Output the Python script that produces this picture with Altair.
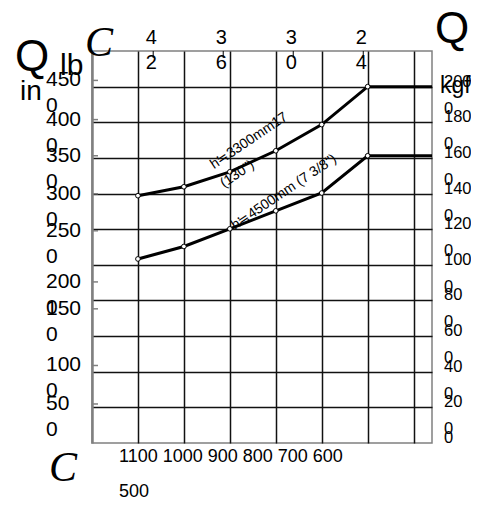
import altair as alt
import pandas as pd

# ---- data ----
x_mm = [1100, 1000, 900, 800, 700, 600]
upper_kgf = [138.8, 143.8, 152.2, 164.0, 178.7, 200.0]
lower_kgf = [103.3, 110.3, 120.2, 130.3, 140.3, 161.2]
x_start, x_edge = 1200, 460
y_max = 220

upper_text = ["h≒3300mm17", "(130\")"]
lower_text = ["h≒4500mm (7 3/8\")"]

left_labels = ["450", "400", "350", "300", "250", "200", "150", "100", "50"]
left_label_pos = [203.5, 181.5, 161.2, 139.9, 119.1, 90.4, 75.3, 43.5, 21.9]
right_values = [200, 180, 160, 140, 120, 100, 80, 60, 40, 20, 0]
top_inches = [42, 36, 30, 24]
bottom_labels = ["1100", "1000", "900", "800", "700", "600", "500"]
grid_x = [1100, 1000, 900, 800, 700, 600, 500]
grid_y = [20, 40, 60, 80, 100, 120, 140, 160, 180, 200]

F = "Liberation Sans"
FI = "Liberation Serif"

xs = alt.Scale(domain=[x_edge, x_start], reverse=True, nice=False, zero=False)
ys = alt.Scale(domain=[0, y_max], nice=False, zero=True)

rows = []
for name, ys_ in (("upper", upper_kgf), ("lower", lower_kgf)):
    for xv, yv in zip(x_mm + [x_edge], ys_ + [ys_[-1]]):
        rows.append({"series": name, "x": xv, "y": yv})
lines_df = pd.DataFrame(rows)
pts_df = pd.DataFrame(
    [{"series": "upper", "x": a, "y": b} for a, b in zip(x_mm, upper_kgf)]
    + [{"series": "lower", "x": a, "y": b} for a, b in zip(x_mm, lower_kgf)]
)

X = alt.X("x:Q", scale=xs, title=None,
          axis=alt.Axis(values=grid_x, labels=False, ticks=False, domain=False,
                        grid=True, gridColor="#111", gridWidth=1.5))
Y = alt.Y("y:Q", scale=ys, title=None,
          axis=alt.Axis(values=grid_y, labels=False, ticks=False, domain=True,
                        domainColor="#808080", domainWidth=2.5,
                        grid=True, gridColor="#111", gridWidth=1.5))

lines = alt.Chart(lines_df).mark_line(color="black", strokeWidth=3).encode(
    x=X, y=Y, detail="series:N")
points = alt.Chart(pts_df).mark_point(
    shape="circle", fill="white", stroke="black", strokeWidth=1,
    size=22, opacity=1, fillOpacity=1).encode(
    x=alt.X("x:Q", scale=xs), y=alt.Y("y:Q", scale=ys), detail="series:N")

# left axis (irregular)
left_df = pd.DataFrame({"pos": left_label_pos, "label": left_labels})
left_ticks = alt.Chart(left_df).mark_rule(color="#808080", strokeWidth=1.5).encode(
    x=alt.value(0), x2=alt.value(6), y=alt.Y("pos:Q", scale=ys))
left_txt = alt.Chart(left_df).mark_text(
    align="left", baseline="middle", fontSize=21, font=F, color="black").encode(
    x=alt.value(-46), y=alt.Y("pos:Q", scale=ys), text="label:N")
left_txt2 = alt.Chart(left_df).mark_text(
    align="left", baseline="middle", fontSize=21, font=F, color="black", dy=26).encode(
    x=alt.value(-46), y=alt.Y("pos:Q", scale=ys), text=alt.value("0"))

# right axis
right_df = pd.DataFrame({"v": right_values, "label": [str(v) for v in right_values]})
right_txt = alt.Chart(right_df).mark_text(
    align="left", baseline="middle", fontSize=16.5, font=F, color="black", dy=-5).encode(
    x=alt.value(352), y=alt.Y("v:Q", scale=ys), text="label:N")
right_txt2 = alt.Chart(right_df[right_df.v > 0]).mark_text(
    align="left", baseline="middle", fontSize=16.5, font=F, color="black", dy=22).encode(
    x=alt.value(352), y=alt.Y("v:Q", scale=ys), text=alt.value("0"))

# top axis (inches)
top_df = pd.DataFrame({"mm": [i * 25.4 for i in top_inches],
                       "a": [str(i)[0] for i in top_inches],
                       "b": [str(i)[1] for i in top_inches]})
top_ticks = alt.Chart(top_df).mark_rule(color="black", strokeWidth=1).encode(
    x=alt.X("mm:Q", scale=xs), y=alt.value(0), y2=alt.value(7))
top_a = alt.Chart(top_df).mark_text(
    align="center", baseline="middle", fontSize=20, font=F, color="black", dx=-2).encode(
    x=alt.X("mm:Q", scale=xs), y=alt.value(-13), text="a:N")
top_b = alt.Chart(top_df).mark_text(
    align="center", baseline="middle", fontSize=20, font=F, color="black", dx=-2).encode(
    x=alt.X("mm:Q", scale=xs), y=alt.value(12), text="b:N")

# bottom wrapped label text
bot1 = alt.Chart(pd.DataFrame({"t": [" ".join(bottom_labels[:6])]})).mark_text(
    align="left", baseline="middle", fontSize=18, font=F, color="black").encode(
    x=alt.value(27), y=alt.value(406), text="t:N")
bot2 = alt.Chart(pd.DataFrame({"t": [bottom_labels[6]]})).mark_text(
    align="left", baseline="middle", fontSize=18, font=F, color="black").encode(
    x=alt.value(27), y=alt.value(441), text="t:N")

def label(t, x, y, size, font=F, style="normal", align="left", baseline="middle"):
    return alt.Chart(pd.DataFrame({"t": [t]})).mark_text(
        align=align, baseline=baseline, fontSize=size, font=font, fontStyle=style,
        color="black").encode(x=alt.value(x), y=alt.value(y), text="t:N")

titles = [
    label("Q", -60, 7, 44, align="center"),
    label("lb", -32, 24, 30, baseline="alphabetic"),
    label("in", -72, 49, 28, baseline="alphabetic"),
    label("C", 7, -8, 42, font=FI, style="italic", align="center"),
    label("C", -29, 417, 42, font=FI, style="italic", align="center"),
    label("Q", 360, -21, 44, align="center"),
    label("kgf", 348, 42, 23, baseline="alphabetic"),
]

ann_df = pd.DataFrame({
    "x": [934.5, 912.7, 888.8],
    "y": [153.6, 143.1, 119.5],
    "t": [upper_text[0], upper_text[1], lower_text[0]],
})
ann = alt.Chart(ann_df).mark_text(
    align="left", baseline="alphabetic", fontSize=14, font=F,
    angle=326, color="black").encode(
    x=alt.X("x:Q", scale=xs), y=alt.Y("y:Q", scale=ys), text="t:N")

chart = alt.layer(
    lines, points, left_ticks, left_txt, left_txt2, right_txt, right_txt2,
    top_ticks, top_a, top_b, bot1, bot2, ann, *titles
).properties(
    width=340, height=392,
    autosize=alt.AutoSizeParams(type="none"),
    padding={"left": 84, "top": 43, "right": 39, "bottom": 57},
).configure_view(stroke="#808080", strokeWidth=1.5)

chart.save("out.html", embed_options={"renderer": "svg", "actions": False})
